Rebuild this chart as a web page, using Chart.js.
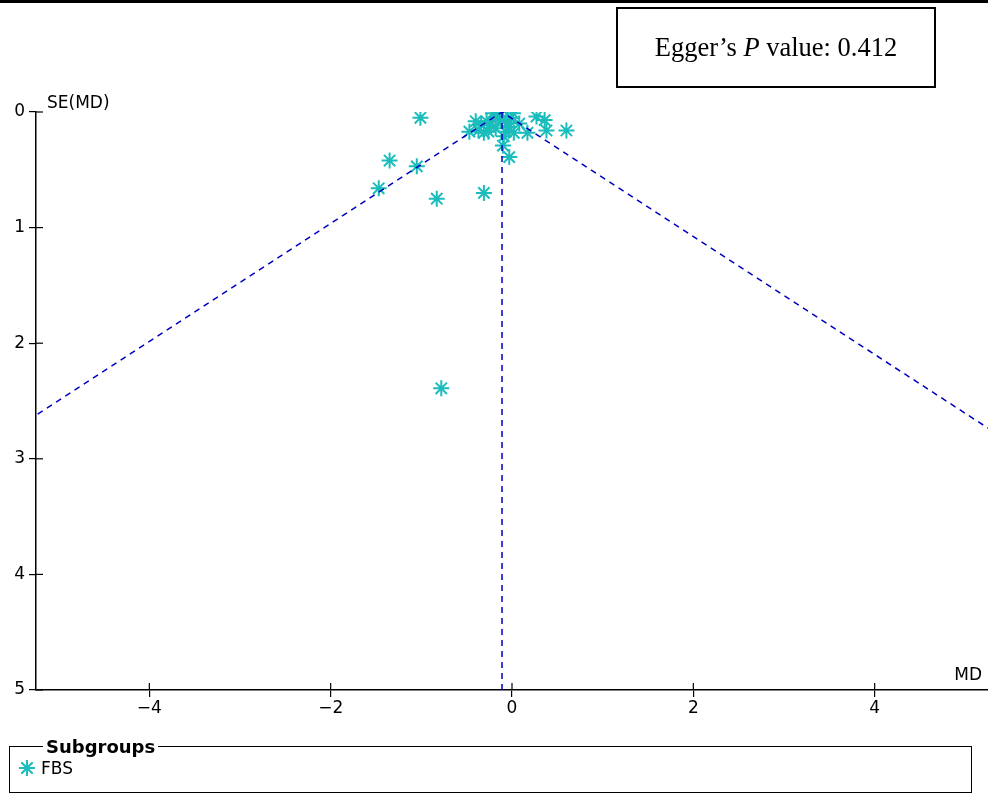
<!DOCTYPE html>
<html>
<head>
<meta charset="utf-8">
<script src="https://cdn.jsdelivr.net/npm/chart.js@4"></script>
<style>
  body { margin: 0; background: #fff; }
  #wrap { position: relative; width: 988px; height: 794px; overflow: hidden; }
  #chart { position: absolute; left: 0; top: 0; }
  #topline { position: absolute; left: 0; top: 0; width: 988px; height: 3px; background: #000; }
  #egger {
    position: absolute; left: 616px; top: 7px; width: 316px; height: 77px;
    border: 2px solid #000; font-family: "Liberation Serif", serif; font-size: 26.5px;
    display: flex; align-items: center; justify-content: center;
  }
  #legend {
    position: absolute; left: 9px; top: 736px; width: 963px; height: 57px;
    box-sizing: border-box;
    margin: 0; padding: 0 8px; border: 1.5px solid #000;
    font-family: "DejaVu Sans", sans-serif; font-size: 17px;
  }
  #legend legend { font-weight: bold; font-size: 18px; padding: 0 3px; margin-left: 25px; }
  #legend .item { display: flex; align-items: center; gap: 5px; margin-top: 1px; }
</style>
</head>
<body>
<div id="wrap">
  <!-- canvas is a bit wider than the page; the right padding puts the plot edge at 988px -->
  <canvas id="chart" width="1020" height="794"></canvas>
  <div id="topline"></div>
  <div id="egger"><span>Egger’s <i>P</i> value: 0.412</span></div>
  <fieldset id="legend">
    <legend>Subgroups</legend>
    <div class="item">
      <svg width="18" height="18" viewBox="-9 -9 18 18">
        <g stroke="#1bbcbc" stroke-width="2">
          <line x1="-8" y1="0" x2="8" y2="0"/><line x1="0" y1="-8" x2="0" y2="8"/>
          <line x1="-5.7" y1="-5.7" x2="5.7" y2="5.7"/><line x1="-5.7" y1="5.7" x2="5.7" y2="-5.7"/>
        </g>
      </svg>
      <span>FBS</span>
    </div>
  </fieldset>
</div>
<script>
// study mean differences and their standard errors
const md = [-1.01, -1.35, -1.05, -1.47, -0.83, -0.31, -0.78, 0.60, 0.38, 0.36,
  0.27, 0.17, -0.03, -0.10, -0.47, -0.40, -0.34, -0.31, -0.26, -0.23,
  -0.21, -0.16, -0.18, -0.12, -0.13, -0.07, -0.03, -0.01, 0.01, 0.02,
  0.08, -0.37, -0.28, -0.05, -0.09];
const se = [0.05, 0.42, 0.47, 0.66, 0.75, 0.70, 2.39, 0.16, 0.16, 0.07,
  0.04, 0.18, 0.39, 0.29, 0.17, 0.08, 0.11, 0.18, 0.17, 0.11,
  0.01, 0.04, 0.14, 0.07, 0.00, 0.17, 0.13, 0.05, 0.01, 0.18,
  0.10, 0.16, 0.08, 0.09, 0.21];
const pooledMD = -0.11;
const seMax = 5;
const xTicks = [-4, -2, 0, 2, 4];
const yTicks = [0, 1, 2, 3, 4, 5];

const points = md.map((v, i) => ({ x: v, y: se[i] }));
const funnel = [
  { x: pooledMD - 1.96 * seMax, y: seMax },
  { x: pooledMD, y: 0 },
  { x: pooledMD + 1.96 * seMax, y: seMax }
];
const midLine = [{ x: pooledMD, y: 0 }, { x: pooledMD, y: seMax }];

const axisFont = { family: 'DejaVu Sans', size: 17 };

const extras = {
  id: 'extras',
  afterDraw(chart) {
    const { ctx, chartArea, scales } = chart;
    ctx.save();
    ctx.strokeStyle = '#000';
    ctx.lineWidth = 1.2;
    // inner half of the crossing ticks
    scales.x.ticks.forEach((t, i) => {
      const px = scales.x.getPixelForTick(i);
      ctx.beginPath();
      ctx.moveTo(px, chartArea.bottom);
      ctx.lineTo(px, chartArea.bottom - 7);
      ctx.stroke();
    });
    scales.y.ticks.forEach((t, i) => {
      const py = scales.y.getPixelForTick(i);
      ctx.beginPath();
      ctx.moveTo(chartArea.left, py);
      ctx.lineTo(chartArea.left + 7, py);
      ctx.stroke();
    });
    ctx.fillStyle = '#000';
    ctx.font = '17px "DejaVu Sans"';
    ctx.textBaseline = 'alphabetic';
    ctx.textAlign = 'left';
    ctx.fillText('SE(MD)', chartArea.left + 11, chartArea.top - 4);
    ctx.textAlign = 'right';
    ctx.fillText('MD', chartArea.right - 6, chartArea.bottom - 10);
    ctx.restore();
  }
};

new Chart(document.getElementById('chart'), {
  type: 'scatter',
  data: {
    datasets: [
      {
        type: 'line', data: funnel, borderColor: '#0000c0', borderWidth: 1.5,
        borderDash: [6, 5], pointRadius: 0, fill: false
      },
      {
        type: 'line', data: midLine, borderColor: '#0000c0', borderWidth: 1.5,
        borderDash: [6, 5], pointRadius: 0, fill: false
      },
      {
        label: 'FBS', data: points, pointStyle: 'star', pointRadius: 8,
        borderColor: '#1bbcbc', backgroundColor: '#1bbcbc', pointBorderWidth: 2
      }
    ]
  },
  options: {
    responsive: false,
    animation: false,
    layout: { padding: { top: 112, left: 0, right: 32, bottom: 0 } },
    plugins: { legend: { display: false }, tooltip: { enabled: false } },
    scales: {
      x: {
        type: 'linear', min: -5.25, max: 5.25,
        afterFit(s) { s.height = 104; s.paddingLeft = 0; s.paddingRight = 0; },
        afterBuildTicks(s) { s.ticks = xTicks.map(v => ({ value: v })); },
        ticks: {
          font: axisFont, color: '#000', padding: 1, maxRotation: 0,
          callback: v => (v < 0 ? '\u2212' + Math.abs(v) : String(v))
        },
        grid: { drawOnChartArea: false, drawTicks: true, tickLength: 7, color: '#000', lineWidth: 1.2 },
        border: { color: '#000', width: 1.5 }
      },
      y: {
        type: 'linear', min: 0, max: 5, reverse: true,
        afterFit(s) { s.width = 36; s.paddingTop = 0; s.paddingBottom = 0; },
        afterBuildTicks(s) { s.ticks = yTicks.map(v => ({ value: v })); },
        ticks: { font: axisFont, color: '#000', padding: 4 },
        grid: { drawOnChartArea: false, drawTicks: true, tickLength: 7, color: '#000', lineWidth: 1.2 },
        border: { color: '#000', width: 1.5 }
      }
    }
  },
  plugins: [extras]
});
</script>
</body>
</html>
